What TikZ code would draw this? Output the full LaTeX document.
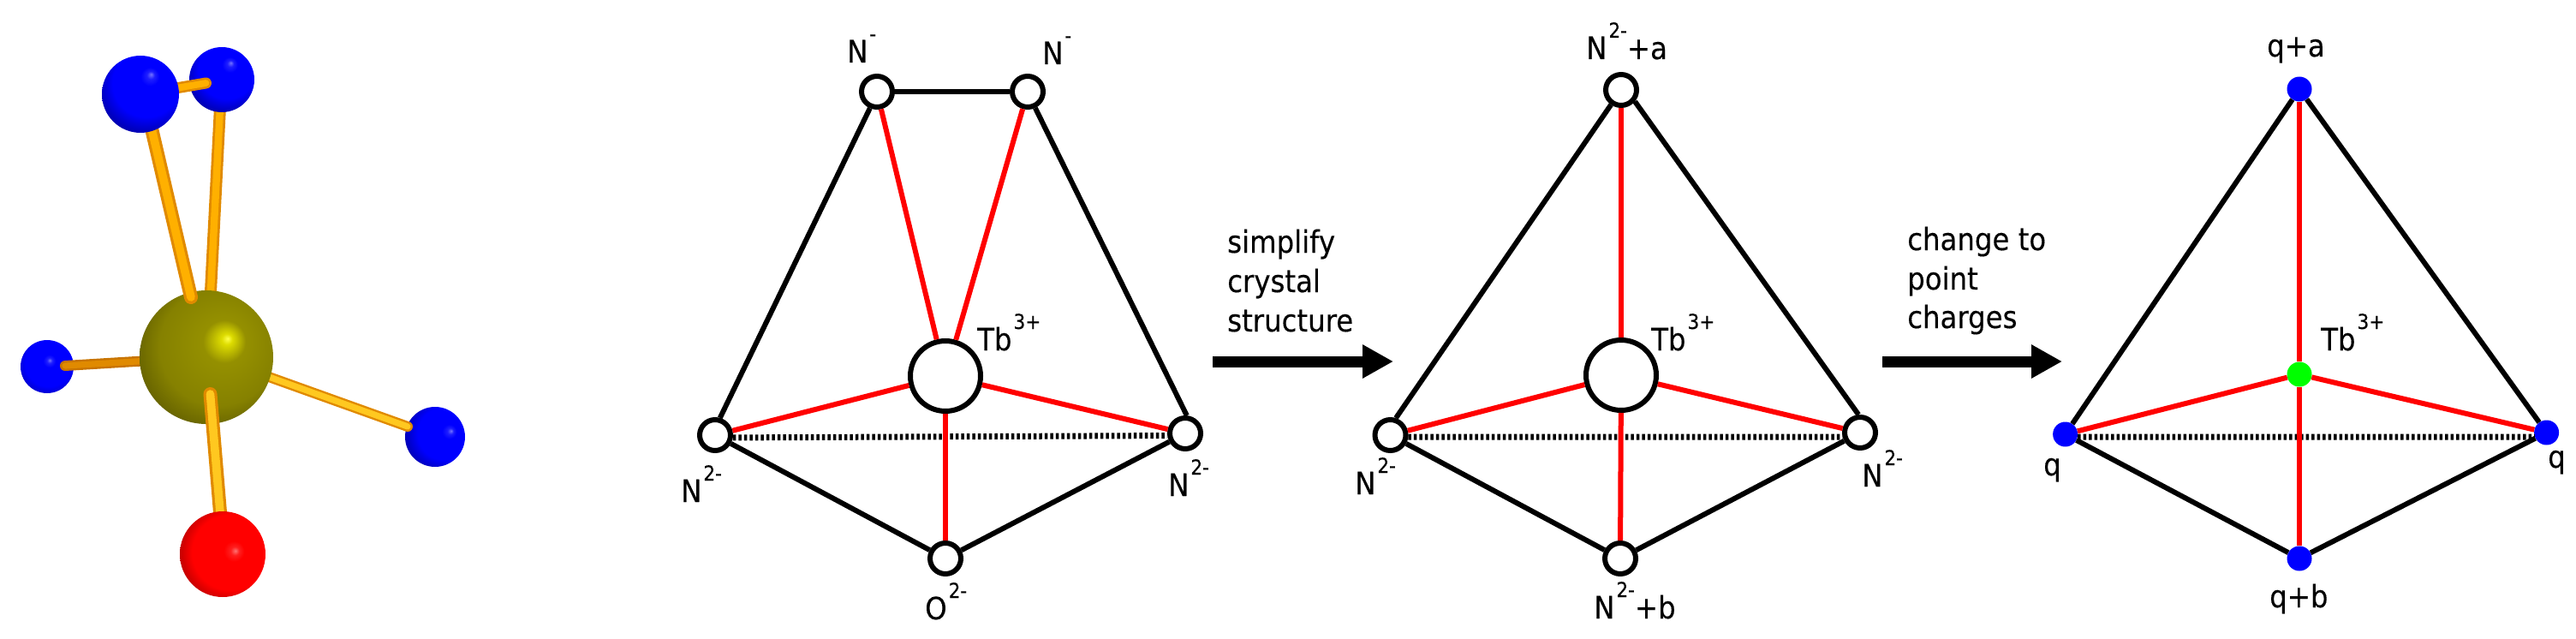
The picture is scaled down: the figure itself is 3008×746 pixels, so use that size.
\documentclass[tikz,border=0pt]{standalone}
\usepackage{fontspec}
\setmainfont[FakeBold=0.2]{DejaVu Sans Condensed}
\usetikzlibrary{arrows.meta}
\definecolor{bondA}{HTML}{E08A00}
\definecolor{bondB}{HTML}{FFB000}
\definecolor{bondC}{HTML}{FFC820}
\definecolor{bondD}{HTML}{C87400}
\definecolor{olivemain}{HTML}{8F8A00}
\definecolor{olivedark}{HTML}{3F3D00}
\newcommand{\mkball}[5]{%
  \pgfdeclareradialshading{#1}{\pgfpoint{#2bp}{#3bp}}{%
    color(0bp)=(#4!55!white); color(2.5bp)=(#4!88!white); color(6bp)=(#4);
    color(22bp)=(#4); color(36bp)=(#5); color(50bp)=(#5)}}
\mkball{blueA}{7}{13}{blue}{blue!50!black}
\mkball{blueB}{7}{13}{blue}{blue!50!black}
\mkball{blueC}{2.5}{6}{blue}{blue!60!black}
\mkball{blueD}{13.5}{5}{blue}{blue!55!black}
\mkball{redA}{7.5}{2}{red}{red!50!black}
\pgfdeclareradialshading{oliveA}{\pgfpoint{8bp}{7bp}}{%
  color(0bp)=(yellow!70!white); color(2bp)=(yellow!70!olivemain);
  color(8bp)=(olivemain!95!yellow); color(22bp)=(olivemain!88!olivedark);
  color(40bp)=(olivedark); color(50bp)=(olivedark)}
\newcommand{\bondline}[5]{%
  \draw[line cap=round,line width=#3pt,#4] (#1) -- (#2);
  \draw[line cap=round,line width=0.6*#3pt,#5] (#1) -- (#2);}
\newcommand{\sups}[1]{\hspace{2pt}\raisebox{25pt}{\fontsize{24}{24}\selectfont #1}}
\tikzset{
  ballnode/.style={circle,inner sep=0pt,draw=none},
  atom/.style={circle,draw=black,fill=white,line width=6pt,inner sep=0pt,minimum size=36pt},
  tbatom/.style={circle,draw=black,fill=white,line width=6pt,inner sep=0pt,minimum size=82pt},
  pointq/.style={circle,fill=blue,draw=none,inner sep=0pt,minimum size=29pt},
  pointtb/.style={circle,fill=green,draw=none,inner sep=0pt,minimum size=29pt},
  blackedge/.style={draw=black,line width=6pt},
  rededge/.style={draw=red,line width=6pt},
  dotedge/.style={draw=black,line width=7pt,dash pattern=on 3.5pt off 3pt},
  bigarrow/.style={draw=black,line width=13pt,-{Triangle[length=36pt,width=37pt]}},
  lab/.style={anchor=base west,inner sep=0pt,font=\fontsize{36}{36}\selectfont},
}
\begin{document}
\begin{tikzpicture}[x=1pt,y=-1pt]
\useasboundingbox (0,0) rectangle (3008,746);
% molecule coordinates
\coordinate (cBig) at (164,110);
\coordinate (cTop) at (259,93);
\coordinate (cOl) at (241,417);
\coordinate (cLeft) at (55,428);
\coordinate (cRight) at (508,510);
\coordinate (cRed) at (260,647);
\coordinate (eBigOl) at (223,347);
\coordinate (eTopBig) at (240.5,97);
\coordinate (eBigS) at (177,150);
\coordinate (eTopS) at (257,125);
\coordinate (eTopE) at (245,360);
\coordinate (eLeftS) at (76,427);
\coordinate (eRightS) at (476,498);
\coordinate (eOlR) at (300,435);
\coordinate (eOlB) at (245.5,460);
\coordinate (eRedT) at (258,610);
\bondline{eTopS}{eTopE}{14}{bondA}{bondB}
\node[ballnode,minimum size=76pt,shading=blueB] (ballTop) at (cTop) {};
\bondline{eTopBig}{cBig}{13}{bondA}{bondB}
\node[ballnode,minimum size=62pt,shading=blueC] (ballLeft) at (cLeft) {};
\bondline{eLeftS}{cOl}{12}{bondD}{bondA}
\node[ballnode,minimum size=70pt,shading=blueD] (ballRight) at (cRight) {};
\bondline{eRightS}{eOlR}{12}{bondA}{bondC}
\node[ballnode,minimum size=156pt,shading=oliveA] (ballOl) at (cOl) {};
\bondline{eBigS}{eBigOl}{16}{bondA}{bondB}
\node[ballnode,minimum size=90pt,shading=blueA] (ballBig) at (cBig) {};
\bondline{eOlB}{eRedT}{16}{bondA}{bondC}
\node[ballnode,minimum size=100pt,shading=redA] (ballRed) at (cRed) {};
% first diagram
\node[atom] (aL) at (835,508) {};
\node[atom] (aR) at (1384,506) {};
\node[atom] (aB) at (1104,652) {};
\node[atom] (aTL) at (1024,107) {};
\node[atom] (aTR) at (1200,107) {};
\node[tbatom] (aTb) at (1104,439) {};
\draw[dotedge] (aL.-8) -- (aR.187);
\draw[blackedge] (aTL) -- (aTR);
\draw[blackedge] (aTL.247) -- (aL.74);
\draw[blackedge] (aTR.-65) -- (aR.85);
\draw[blackedge] (aL) -- (aB);
\draw[blackedge] (aR) -- (aB);
\draw[rededge] (aTL) -- (aTb);
\draw[rededge] (aTR) -- (aTb);
\draw[rededge] (aL) -- (aTb);
\draw[rededge] (aR) -- (aTb);
\draw[rededge] (aB) -- (aTb);
\node[lab] (tTL) at (989,73) {N\sups{-}};
\node[lab] (tTR) at (1217,75) {N\sups{-}};
\node[lab] (tTb1) at (1141,409) {Tb\sups{3+}};
\node[lab] (tL) at (795,586) {N\sups{2-}};
\node[lab] (tR) at (1364,579) {N\sups{2-}};
\node[lab] (tB) at (1080,723) {O\sups{2-}};
% arrow 1
\node[lab] (tS1) at (1433,295) {simplify};
\node[lab] (tS2) at (1433,341) {crystal};
\node[lab] (tS3) at (1433,387) {structure};
\coordinate (ar1s) at (1416,422);
\coordinate (ar1e) at (1627,422);
\draw[bigarrow] (ar1s) -- (ar1e);
% second diagram
\node[atom] (bL) at (1623.5,508) {};
\node[atom] (bR) at (2172,505) {};
\node[atom] (bB) at (1892,652) {};
\node[atom] (bT) at (1893,105) {};
\node[tbatom] (bTb) at (1893,438) {};
\draw[dotedge] (bL.-6) -- (bR.194);
\draw[blackedge] (bT) -- (bL.72);
\draw[blackedge] (bT.-40) -- (bR.95);
\draw[blackedge] (bL) -- (bB);
\draw[blackedge] (bR) -- (bB);
\draw[rededge] (bT) -- (bTb);
\draw[rededge] (bL) -- (bTb);
\draw[rededge] (bR) -- (bTb);
\draw[rededge] (bB) -- (bTb);
\node[lab] (uT) at (1852,69) {N\sups{2-}+a};
\node[lab] (uTb) at (1928,409) {Tb\sups{3+}};
\node[lab] (uL) at (1582,577) {N\sups{2-}};
\node[lab] (uR) at (2174,568) {N\sups{2-}};
\node[lab] (uB) at (1861,722) {N\sups{2-}+b};
% arrow 2
\node[lab] (tC1) at (2227,292) {change to};
\node[lab] (tC2) at (2227,338) {point};
\node[lab] (tC3) at (2227,383) {charges};
\coordinate (ar2s) at (2198,422);
\coordinate (ar2e) at (2408,422);
\draw[bigarrow] (ar2s) -- (ar2e);
% third diagram
\node[pointq] (cL) at (2411.6,507) {};
\node[pointq] (cR) at (2973.6,505) {};
\node[pointq] (cB) at (2685,652) {};
\node[pointq] (cT) at (2685,104) {};
\node[pointtb] (cTb) at (2685,437) {};
\draw[dotedge] (cL.-12) -- (cR.200);
\draw[blackedge] (cT) -- (cL);
\draw[blackedge] (cT) -- (cR);
\draw[blackedge] (cL) -- (cB);
\draw[blackedge] (cR) -- (cB);
\draw[rededge] (cT) -- (cTb);
\draw[rededge] (cL) -- (cTb);
\draw[rededge] (cR) -- (cTb);
\draw[rededge] (cB) -- (cTb);
\node[lab] (vT) at (2647,66) {q+a};
\node[lab] (vTb) at (2710,409) {Tb\sups{3+}};
\node[lab] (vL) at (2386,555) {q};
\node[lab] (vR) at (2975,546) {q};
\node[lab] (vB) at (2650,709) {q+b};
\end{tikzpicture}
\end{document}
